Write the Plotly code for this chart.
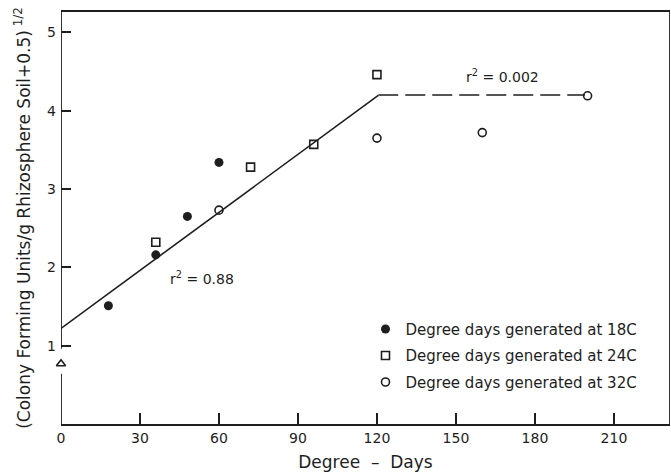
import plotly.graph_objects as go

# Degree-days and transformed colony counts, grouped by generation temperature
dd_18 = [18, 36, 48, 60]
cfu_18 = [1.51, 2.16, 2.65, 3.34]
dd_24 = [36, 72, 96, 120]
cfu_24 = [2.32, 3.28, 3.57, 4.46]
dd_32 = [60, 120, 160, 200]
cfu_32 = [2.73, 3.65, 3.72, 4.19]

# Initial count at day zero
dd_0 = [0]
cfu_0 = [0.77]

# Fitted segments: linear rise, then plateau
fit_intercept = 1.22
fit_slope = 0.0247
fit_break = 120.5
plateau_end = 199
plateau_level = 4.2

x_ticks = [0, 30, 60, 90, 120, 150, 180, 210]
y_ticks = [1, 2, 3, 4, 5]
x_max = 231.3
y_max = 5.26
y_gap = (0.64, 0.96)

ink = "#1e1e1e"
font_family = "DejaVu Sans"

fig = go.Figure()

rise_x = [0, fit_break]
rise_y = [fit_intercept + fit_slope * v for v in rise_x]
fig.add_trace(go.Scatter(x=rise_x, y=rise_y, mode="lines",
                         line=dict(color=ink, width=1.6), showlegend=False))
fig.add_trace(go.Scatter(x=[fit_break, plateau_end], y=[plateau_level, plateau_level],
                         mode="lines", line=dict(color=ink, width=1.6, dash="20px,7px"),
                         showlegend=False))

fig.add_trace(go.Scatter(x=dd_18, y=cfu_18, mode="markers",
                         name="Degree days generated at 18C", legendgroup="a",
                         marker=dict(symbol="circle", size=9, color=ink)))
fig.add_trace(go.Scatter(x=dd_24, y=cfu_24, mode="markers",
                         name="Degree days generated at 24C", legendgroup="b",
                         marker=dict(symbol="square-open", size=8, color=ink,
                                     line=dict(width=1.6))))
fig.add_trace(go.Scatter(x=dd_32, y=cfu_32, mode="markers",
                         name="Degree days generated at 32C", legendgroup="c",
                         marker=dict(symbol="circle-open", size=8, color=ink,
                                     line=dict(width=1.6))))
fig.add_trace(go.Scatter(x=dd_0, y=cfu_0, mode="markers", showlegend=False,
                         cliponaxis=False,
                         marker=dict(symbol="triangle-up-open", size=8, color=ink,
                                     line=dict(width=1.6))))

# Left axis drawn in two pieces around the break
line_style = dict(color=ink, width=1.8)
fig.add_shape(type="line", xref="x", yref="y", x0=0, x1=0, y0=0, y1=y_gap[0], line=line_style)
fig.add_shape(type="line", xref="x", yref="y", x0=0, x1=0, y0=y_gap[1], y1=y_max, line=line_style)
fig.add_shape(type="line", xref="x", yref="y", x0=x_max, x1=x_max, y0=0, y1=y_max, line=line_style)

fig.add_annotation(x=53.5, y=1.86, text="r<sup>2</sup> = 0.88", showarrow=False,
                   font=dict(size=14, color=ink, family=font_family))
fig.add_annotation(x=167.5, y=4.44, text="r<sup>2</sup> = 0.002", showarrow=False,
                   font=dict(size=14, color=ink, family=font_family))

title_font = dict(family=font_family, size=17, color=ink)

fig.update_layout(
    width=671, height=472,
    margin=dict(l=61, r=1, t=12, b=48),
    paper_bgcolor="white", plot_bgcolor="white",
    font=dict(family=font_family, size=14, color=ink),
    xaxis=dict(range=[0, x_max], tickvals=x_ticks, ticks="inside", ticklen=11,
               tickwidth=1.6, tickcolor=ink, showgrid=False, zeroline=False,
               showline=True, mirror=True, linecolor=ink, linewidth=1.8,
               title=dict(text="Degree  –  Days", standoff=12, font=title_font)),
    yaxis=dict(range=[0, y_max], tickvals=y_ticks, ticks="inside", ticklen=10,
               tickwidth=1.6, tickcolor=ink, showgrid=False, zeroline=False,
               showline=False, ticklabelstandoff=4,
               title=dict(text="(Colony Forming Units/g Rhizosphere Soil+0.5)<sup> 1/2</sup>",
                          standoff=12, font=title_font)),
    legend=dict(x=0.5, y=0.27, xanchor="left", yanchor="top",
                bgcolor="rgba(0,0,0,0)", tracegroupgap=4,
                traceorder="grouped", font=dict(size=15)),
)

fig.write_html("out.html")
